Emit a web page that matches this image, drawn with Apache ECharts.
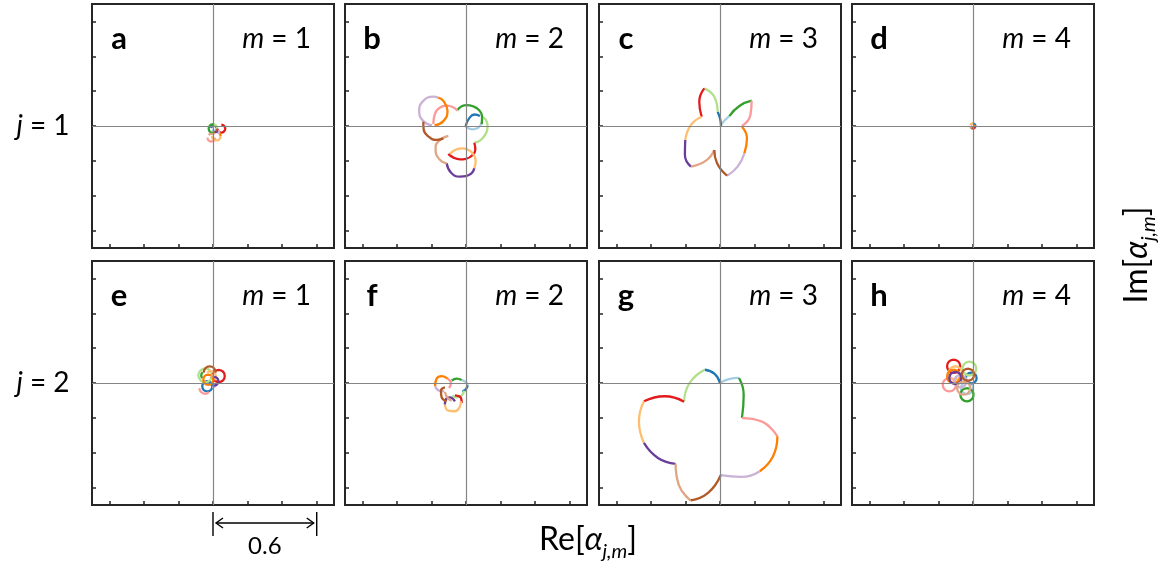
<!DOCTYPE html>
<html>
<head>
<meta charset="utf-8">
<script src="https://cdn.jsdelivr.net/npm/echarts@6/dist/echarts.min.js"></script>
<style>
  html, body { margin: 0; padding: 0; background: #fff; }
  #chart { width: 1167px; height: 568px; }
</style>
</head>
<body>
<div id="chart"></div>
<script>
// arc colours, same order in every panel
const arcColors = ['#a6cee3', '#1f78b4', '#b2df8a', '#33a02c', '#fb9a99', '#e31a1c',
  '#fdbf6f', '#ff7f00', '#cab2d6', '#6a3d9a', '#e0a684', '#b15928'];

const panelLetters = ['a', 'b', 'c', 'd', 'e', 'f', 'g', 'h'];
const panelM = [1, 2, 3, 4, 1, 2, 3, 4];
const rowJ = [1, 2];
const tickValues = [-0.6, -0.4, -0.2, 0, 0.2, 0.4, 0.6];
const axisMin = -0.7;
const axisMax = 0.7;
const scaleBarLength = 0.6;

// [Re, Im] points of each coloured arc
const panelA = [
  [[0.020,-0.012],[0.016,-0.023],[0.005,-0.027],[-0.006,-0.023]],
  [[-0.010,-0.012],[-0.006,-0.001],[0.005,0.003],[0.016,-0.001],[0.020,-0.012]],
  [[0.000,0.010],[0.018,0.003],[0.025,-0.015]],
  [[0.000,0.010],[-0.018,0.003],[-0.025,-0.015],[-0.018,-0.033],[0.000,-0.040]],
  [[-0.032,-0.067],[-0.026,-0.083],[-0.010,-0.089],[0.006,-0.083],[0.012,-0.067]],
  [[0.048,0.008],[0.064,0.001],[0.071,-0.015],[0.064,-0.031],[0.048,-0.038],[0.032,-0.031],[0.025,-0.015]],
  [[-0.006,-0.058],[0.001,-0.076],[0.019,-0.083],[0.037,-0.076],[0.044,-0.058]],
  [[0.044,-0.058],[0.037,-0.040],[0.019,-0.033],[0.004,-0.040]],
  [[0.030,-0.025],[0.035,-0.035],[0.030,-0.045]],
  [[0.010,-0.030],[0.018,-0.035],[0.025,-0.030]],
  [[0.006,-0.051],[-0.010,-0.045],[-0.026,-0.051]],
  [[0.020,-0.020],[0.025,-0.028]]
];
const panelB = [
  [[-0.002,-0.004],[0.037,-0.019],[0.071,-0.010],[0.091,0.019]],
  [[-0.002,0.000],[0.019,0.045],[0.050,0.066],[0.081,0.057]],
  [[0.091,0.053],[0.115,0.035],[0.125,-0.004],[0.114,-0.045],[0.081,-0.084],[0.048,-0.096]],
  [[-0.050,0.092],[-0.025,0.113],[0.004,0.120],[0.040,0.113],[0.075,0.092],[0.093,0.055],[0.091,0.011]],
  [[-0.189,0.011],[-0.181,0.065],[-0.150,0.106],[-0.112,0.117],[-0.075,0.108],[-0.050,0.088]],
  [[0.048,-0.096],[0.054,-0.135],[0.037,-0.168],[0.000,-0.188],[-0.035,-0.191],[-0.075,-0.180],[-0.102,-0.160]],
  [[-0.093,-0.160],[-0.060,-0.136],[-0.021,-0.128],[0.020,-0.140],[0.046,-0.168],[0.056,-0.199],[0.048,-0.243]],
  [[-0.161,0.163],[-0.131,0.144],[-0.107,0.086],[-0.131,0.028],[-0.182,0.004]],
  [[-0.161,0.163],[-0.189,0.168],[-0.247,0.144],[-0.271,0.086],[-0.247,0.028],[-0.196,0.004]],
  [[0.048,-0.243],[0.027,-0.275],[-0.035,-0.290],[-0.085,-0.270],[-0.112,-0.214]],
  [[-0.112,-0.214],[-0.155,-0.190],[-0.176,-0.134],[-0.160,-0.088],[-0.102,-0.057]],
  [[-0.247,0.025],[-0.245,-0.020],[-0.215,-0.062],[-0.170,-0.080],[-0.131,-0.071]]
];
const panelC = [
  [[0.006,0.006],[0.029,0.034],[0.054,0.057]],
  [[-0.014,0.082],[0.000,0.044],[0.006,0.000]],
  [[-0.091,0.216],[-0.033,0.168],[-0.014,0.082]],
  [[0.054,0.057],[0.112,0.115],[0.183,0.145]],
  [[0.183,0.145],[0.176,0.063],[0.127,0.000]],
  [[-0.106,0.053],[-0.120,0.139],[-0.091,0.216]],
  [[-0.201,-0.080],[-0.168,0.006],[-0.106,0.053]],
  [[0.127,-0.004],[0.156,-0.071],[0.141,-0.157]],
  [[0.141,-0.157],[0.102,-0.233],[0.041,-0.285]],
  [[-0.168,-0.233],[-0.203,-0.166],[-0.201,-0.080]],
  [[-0.033,-0.138],[-0.081,-0.199],[-0.168,-0.233]],
  [[0.041,-0.285],[-0.017,-0.214],[-0.033,-0.138]]
];
const panelD = [
  [[0.004,0.004],[0.008,0.010]],
  [[0.000,0.014],[0.010,0.010],[0.014,0.000]],
  [[-0.014,0.006],[-0.010,0.012],[0.000,0.014]],
  [[-0.014,0.000],[-0.010,-0.010],[-0.002,-0.012]],
  [[-0.006,0.014],[-0.014,0.004]],
  [[0.014,-0.002],[0.010,-0.010],[0.002,-0.014]],
  [[-0.012,0.005],[-0.005,0.015],[0.005,0.014]],
  [[0.008,-0.004],[0.014,0.004]],
  [[-0.004,-0.004],[0.002,-0.006]],
  [[0.004,-0.008],[0.008,-0.006]],
  [[-0.014,-0.004],[-0.006,-0.014]],
  [[-0.008,-0.012],[0.002,-0.015]]
];
const panelE = [
  [[-0.020,0.000],[-0.010,-0.010],[0.000,-0.005]],
  [[-0.033,0.010],[-0.012,0.002],[-0.004,-0.019],[-0.012,-0.040],[-0.033,-0.048],[-0.054,-0.040],[-0.062,-0.019],[-0.054,0.002],[-0.033,0.010]],
  [[-0.045,0.084],[-0.017,0.072],[-0.005,0.044],[-0.017,0.016],[-0.045,0.004],[-0.073,0.016],[-0.085,0.044],[-0.073,0.072],[-0.045,0.084]],
  [[-0.060,0.062],[-0.068,0.045],[-0.063,0.028]],
  [[-0.079,-0.029],[-0.069,-0.052],[-0.046,-0.062],[-0.023,-0.052]],
  [[0.033,0.075],[0.058,0.065],[0.068,0.040],[0.058,0.015],[0.033,0.005],[0.008,0.015],[-0.002,0.040],[0.008,0.065],[0.033,0.075]],
  [[-0.034,0.059],[-0.013,0.068],[0.008,0.059],[0.017,0.038],[0.008,0.017]],
  [[-0.027,0.048],[-0.006,0.040],[0.002,0.019],[-0.006,-0.002],[-0.027,-0.010],[-0.048,-0.002],[-0.056,0.019],[-0.048,0.040],[-0.027,0.048]],
  [[0.020,-0.005],[0.010,-0.020],[-0.005,-0.025]],
  [[0.006,0.035],[0.024,0.028],[0.031,0.010],[0.024,-0.008],[0.006,-0.015]],
  [[-0.010,0.030],[-0.005,0.045],[0.005,0.050]],
  [[-0.054,0.060],[-0.044,0.085],[-0.019,0.095],[0.006,0.085],[0.016,0.060]]
];
const panelF = [
  [[-0.025,0.017],[-0.002,0.006],[0.010,-0.013]],
  [[0.010,-0.013],[-0.002,-0.038],[-0.021,-0.048]],
  [[-0.010,-0.044],[-0.025,-0.071],[-0.054,-0.082],[-0.079,-0.071]],
  [[-0.083,0.013],[-0.054,0.025],[-0.025,0.017]],
  [[-0.106,0.025],[-0.087,0.000],[-0.098,-0.029]],
  [[-0.064,-0.071],[-0.029,-0.086],[-0.025,-0.115]],
  [[-0.122,-0.124],[-0.102,-0.159],[-0.064,-0.162],[-0.035,-0.134],[-0.029,-0.105]],
  [[-0.179,-0.019],[-0.170,0.025],[-0.141,0.040],[-0.106,0.025]],
  [[-0.179,-0.019],[-0.156,-0.044],[-0.125,-0.048]],
  [[-0.064,-0.105],[-0.093,-0.082],[-0.118,-0.096],[-0.122,-0.124]],
  [[-0.122,-0.052],[-0.106,-0.086],[-0.083,-0.101]],
  [[-0.122,-0.025],[-0.145,-0.044],[-0.141,-0.082],[-0.112,-0.105]]
];
const panelG = [
  [[0.000,0.000],[0.046,0.021],[0.110,0.029]],
  [[-0.089,0.076],[-0.031,0.052],[0.000,0.000]],
  [[-0.208,-0.107],[-0.176,0.000],[-0.089,0.076]],
  [[0.110,0.029],[0.137,-0.067],[0.127,-0.201]],
  [[0.127,-0.201],[0.239,-0.220],[0.332,-0.306]],
  [[-0.440,-0.105],[-0.320,-0.076],[-0.208,-0.107]],
  [[-0.440,-0.344],[-0.469,-0.220],[-0.440,-0.105]],
  [[0.332,-0.306],[0.307,-0.420],[0.230,-0.506]],
  [[0.230,-0.506],[0.124,-0.539],[0.004,-0.529]],
  [[-0.257,-0.464],[-0.359,-0.430],[-0.440,-0.344]],
  [[-0.170,-0.674],[-0.239,-0.583],[-0.257,-0.464]],
  [[0.004,-0.529],[-0.069,-0.630],[-0.170,-0.674]]
];
const panelH = [
  [[-0.035,0.006],[-0.010,-0.004],[0.000,-0.029],[-0.010,-0.054],[-0.035,-0.064],[-0.060,-0.054],[-0.070,-0.029],[-0.060,-0.004],[-0.035,0.006]],
  [[-0.010,0.060],[0.012,0.051],[0.021,0.029],[0.012,0.007],[-0.010,-0.002],[-0.032,0.007],[-0.041,0.029],[-0.032,0.051],[-0.010,0.060]],
  [[-0.021,0.123],[0.007,0.111],[0.019,0.083],[0.007,0.055],[-0.021,0.043],[-0.049,0.055],[-0.061,0.083],[-0.049,0.111],[-0.021,0.123]],
  [[-0.035,-0.029],[-0.008,-0.040],[0.003,-0.067],[-0.008,-0.094],[-0.035,-0.105],[-0.062,-0.094],[-0.073,-0.067],[-0.062,-0.040],[-0.035,-0.029]],
  [[-0.137,0.028],[-0.110,0.017],[-0.099,-0.010],[-0.110,-0.037],[-0.137,-0.048],[-0.164,-0.037],[-0.175,-0.010],[-0.164,0.017],[-0.137,0.028]],
  [[-0.112,0.134],[-0.085,0.123],[-0.074,0.096],[-0.085,0.069],[-0.112,0.058],[-0.139,0.069],[-0.150,0.096],[-0.139,0.123],[-0.112,0.134]],
  [[-0.102,0.096],[-0.075,0.085],[-0.064,0.058],[-0.075,0.031],[-0.102,0.020],[-0.129,0.031],[-0.140,0.058],[-0.129,0.085],[-0.102,0.096]],
  [[-0.112,0.076],[-0.085,0.065],[-0.074,0.038],[-0.085,0.011],[-0.112,0.000],[-0.139,0.011],[-0.150,0.038],[-0.139,0.065],[-0.112,0.076]],
  [[-0.073,0.045],[-0.048,0.035],[-0.038,0.010],[-0.048,-0.015],[-0.073,-0.025],[-0.098,-0.015],[-0.108,0.010],[-0.098,0.035],[-0.073,0.045]],
  [[-0.102,0.064],[-0.077,0.054],[-0.067,0.029],[-0.077,0.004],[-0.102,-0.006],[-0.127,0.004],[-0.137,0.029],[-0.127,0.054],[-0.102,0.064]],
  [[-0.054,0.009],[-0.027,-0.002],[-0.016,-0.029],[-0.027,-0.056],[-0.054,-0.067],[-0.081,-0.056],[-0.092,-0.029],[-0.081,-0.002],[-0.054,0.009]],
  [[-0.029,0.083],[-0.004,0.073],[0.006,0.048],[-0.004,0.023],[-0.029,0.013],[-0.054,0.023],[-0.064,0.048],[-0.054,0.073],[-0.029,0.083]]
];
const panels = [panelA, panelB, panelC, panelD, panelE, panelF, panelG, panelH];

// layout
const colLeft = [92, 345, 599, 852];
const rowTop = [4, 261];
const boxW = 242, boxH = 244;
const font = 'Lato, "Open Sans", sans-serif';

const chart = echarts.init(document.getElementById('chart'));

const grids = [], xAxes = [], yAxes = [], series = [];
panels.forEach((arcs, p) => {
  const col = p % 4, row = Math.floor(p / 4);
  grids.push({
    left: colLeft[col], top: rowTop[row], width: boxW, height: boxH,
    show: true, borderColor: '#262626', borderWidth: 2, backgroundColor: 'transparent'
  });
  const tick = {
    show: true, inside: true, length: 4, customValues: tickValues,
    lineStyle: { color: '#262626', width: 1.5 }
  };
  xAxes.push({
    gridIndex: p, type: 'value', min: axisMin, max: axisMax,
    axisLine: { show: false, onZero: false }, axisLabel: { show: false }, splitLine: { show: false },
    axisTick: tick
  });
  yAxes.push({
    gridIndex: p, type: 'value', min: axisMin, max: axisMax,
    axisLine: { show: false, onZero: false }, axisLabel: { show: false }, splitLine: { show: false },
    axisTick: tick
  });
  // zero lines
  series.push({
    type: 'line', xAxisIndex: p, yAxisIndex: p, data: [], z: 1, silent: true,
    markLine: {
      silent: true, symbol: 'none', label: { show: false },
      lineStyle: { color: '#858585', width: 1.2, type: 'solid' },
      data: [{ xAxis: 0 }, { yAxis: 0 }]
    }
  });
  arcs.forEach((pts, k) => {
    series.push({
      type: 'line', xAxisIndex: p, yAxisIndex: p, data: pts,
      smooth: true, showSymbol: false, z: 3, silent: true,
      lineStyle: { color: arcColors[k], width: 2.3 }
    });
  });
});

chart.setOption({
  animation: false,
  grid: grids,
  xAxis: xAxes,
  yAxis: yAxes,
  series: series
});

// texts
const graphics = [];
panels.forEach((arcs, p) => {
  const col = p % 4, row = Math.floor(p / 4);
  const left = colLeft[col], top = rowTop[row];
  graphics.push({
    type: 'text', x: left + 27, y: top + 35,
    style: { text: panelLetters[p], font: 'bold 31px ' + font, fill: '#000', align: 'center', verticalAlign: 'middle' }
  });
  graphics.push({
    type: 'text', x: left + boxW - 23, y: top + 35,
    style: {
      text: '{i|m}{n| = ' + panelM[p] + '}', align: 'right', verticalAlign: 'middle',
      rich: {
        i: { fontFamily: font, fontSize: 28, fontStyle: 'italic', fill: '#000' },
        n: { fontFamily: font, fontSize: 28, fill: '#000' }
      }
    }
  });
});
rowJ.forEach((j, r) => {
  graphics.push({
    type: 'text', x: 43, y: rowTop[r] + boxH / 2,
    style: {
      text: '{i|j}{n| = ' + j + '}', align: 'center', verticalAlign: 'middle',
      rich: {
        i: { fontFamily: font, fontSize: 28, fontStyle: 'italic', fill: '#000' },
        n: { fontFamily: font, fontSize: 28, fill: '#000' }
      }
    }
  });
});
const axisRich = {
  n: { fontFamily: font, fontSize: 32, fill: '#000', lineHeight: 44 },
  i: { fontFamily: font, fontSize: 32, fontStyle: 'italic', fill: '#000', lineHeight: 44 },
  s: { fontFamily: font, fontSize: 20, fontStyle: 'italic', fill: '#000', lineHeight: 20, verticalAlign: 'bottom' }
};
graphics.push({
  type: 'text', x: 588, y: 540,
  style: { text: '{n|Re[}{i|α}{s|j,m}{n|]}', align: 'center', verticalAlign: 'middle', rich: axisRich }
});
graphics.push({
  type: 'text', x: 1137, y: 255, rotation: Math.PI / 2,
  style: { text: '{n|Im[}{i|α}{s|j,m}{n|]}', align: 'center', verticalAlign: 'middle', rich: axisRich }
});

// scale bar under panel e, from the axis scale
const p0 = chart.convertToPixel({ gridIndex: 4 }, [0, axisMin]);
const p1 = chart.convertToPixel({ gridIndex: 4 }, [scaleBarLength, axisMin]);
const by = p0[1] + 18;
const barStyle = { stroke: '#000', lineWidth: 1.4, fill: null };
graphics.push({ type: 'line', shape: { x1: p0[0], y1: p0[1] + 7, x2: p0[0], y2: p0[1] + 31 }, style: barStyle });
graphics.push({ type: 'line', shape: { x1: p1[0], y1: p0[1] + 7, x2: p1[0], y2: p0[1] + 31 }, style: barStyle });
graphics.push({ type: 'line', shape: { x1: p0[0] + 3, y1: by, x2: p1[0] - 3, y2: by }, style: barStyle });
graphics.push({ type: 'polyline', shape: { points: [[p0[0] + 10, by - 5], [p0[0] + 3, by], [p0[0] + 10, by + 5]] }, style: barStyle });
graphics.push({ type: 'polyline', shape: { points: [[p1[0] - 10, by - 5], [p1[0] - 3, by], [p1[0] - 10, by + 5]] }, style: barStyle });
graphics.push({
  type: 'text', x: (p0[0] + p1[0]) / 2, y: p0[1] + 41,
  style: { text: String(scaleBarLength), font: '24px ' + font, fill: '#000', align: 'center', verticalAlign: 'middle' }
});

chart.setOption({ graphic: graphics });
</script>
</body>
</html>
